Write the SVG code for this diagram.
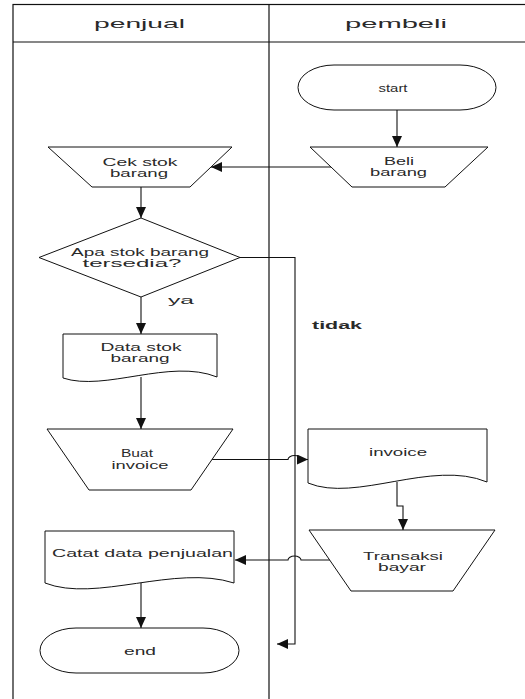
<svg xmlns="http://www.w3.org/2000/svg" width="525" height="699" viewBox="0 0 525 699">
  <style>
    .lane { fill: none; stroke: #111; stroke-width: 1.2; }
    .shape { fill: #fff; stroke: #111; stroke-width: 1; }
    .link { fill: none; stroke: #111; stroke-width: 1.1; }
    text { font-family: "Liberation Sans", Arial, sans-serif; fill: #2a2a2a; text-anchor: middle; }
    .hd { font-size: 13px; }
    .lb { font-size: 10.5px; }
    .bold { font-size: 11px; font-weight: bold; }
  </style>
  <defs>
    <marker id="arrow" markerUnits="userSpaceOnUse" markerWidth="11" markerHeight="10" refX="11" refY="5" orient="auto">
      <path d="M0,0 L11,5 L0,10 z" fill="#111"/>
    </marker>
  </defs>
  <rect width="525" height="699" fill="#fff"/>

  <!-- swimlanes -->
  <g id="lanes">
    <rect class="lane" x="13" y="4.5" width="530" height="710"/>
    <line class="lane" x1="13" y1="42" x2="525" y2="42"/>
    <line class="lane" x1="269" y1="4.5" x2="269" y2="699"/>
    <text class="hd" x="139.5" y="27.5" textLength="91" lengthAdjust="spacingAndGlyphs">penjual</text>
    <text class="hd" x="396" y="27.5" textLength="102" lengthAdjust="spacingAndGlyphs">pembeli</text>
  </g>

  <!-- connectors -->
  <g id="connectors">
    <path class="link" d="M397,110 V147" marker-end="url(#arrow)"/>
    <path class="link" d="M331,167 H211" marker-end="url(#arrow)"/>
    <path class="link" d="M141,187 V218" marker-end="url(#arrow)"/>
    <path class="link" d="M240,257.5 H295 V644 H277" marker-end="url(#arrow)"/>
    <path class="link" d="M141,297 V334" marker-end="url(#arrow)"/>
    <path class="link" d="M141,377 V429" marker-end="url(#arrow)"/>
    <path class="link" d="M212,459.5 H288 A6.5,4 0 0 1 301,459.5 H308" marker-end="url(#arrow)"/>
    <path class="link" d="M397,482 V506 H403 V530" marker-end="url(#arrow)"/>
    <path class="link" d="M330,560 H301 A6.5,4 0 0 0 288,560 H235" marker-end="url(#arrow)"/>
    <path class="link" d="M141,583 V628" marker-end="url(#arrow)"/>
  </g>

  <g id="start">
    <rect class="shape" x="298" y="65" width="198" height="45" rx="36" ry="22.5"/>
    <text class="lb" x="393" y="91.5" textLength="29" lengthAdjust="spacingAndGlyphs">start</text>
  </g>

  <g id="beli-barang">
    <polygon class="shape" points="310,147 488,147 445,187 352,187"/>
    <text class="lb" x="399" y="165" textLength="30" lengthAdjust="spacingAndGlyphs">Beli</text>
    <text class="lb" x="398.5" y="176" textLength="57" lengthAdjust="spacingAndGlyphs">barang</text>
  </g>

  <g id="cek-stok">
    <polygon class="shape" points="48,147 232,147 190,187 92,187"/>
    <text class="lb" x="140" y="166" textLength="75" lengthAdjust="spacingAndGlyphs">Cek stok</text>
    <text class="lb" x="139" y="177" textLength="58" lengthAdjust="spacingAndGlyphs">barang</text>
  </g>

  <g id="stok-tersedia">
    <polygon class="shape" points="141,218 240,257.5 141,297 39,257.5"/>
    <text class="lb" x="140" y="255.5" textLength="138" lengthAdjust="spacingAndGlyphs">Apa stok barang</text>
    <text class="lb" x="132" y="266.5" textLength="99" lengthAdjust="spacingAndGlyphs">tersedia?</text>
  </g>

  <g id="label-ya">
    <text class="lb" x="181" y="304" textLength="26" lengthAdjust="spacingAndGlyphs">ya</text>
  </g>
  <g id="label-tidak">
    <text class="bold" x="337" y="329" textLength="50" lengthAdjust="spacingAndGlyphs">tidak</text>
  </g>

  <g id="data-stok">
    <path class="shape" d="M63,334 H217 V377 C170,358 105,392 63,378 Z"/>
    <text class="lb" x="141" y="351" textLength="81" lengthAdjust="spacingAndGlyphs">Data stok</text>
    <text class="lb" x="140" y="362" textLength="59" lengthAdjust="spacingAndGlyphs">barang</text>
  </g>

  <g id="buat-invoice">
    <polygon class="shape" points="47,429 233,429 191,490 89,490"/>
    <text class="lb" x="137" y="457" textLength="32" lengthAdjust="spacingAndGlyphs">Buat</text>
    <text class="lb" x="140" y="468.5" textLength="57" lengthAdjust="spacingAndGlyphs">invoice</text>
  </g>

  <g id="invoice">
    <path class="shape" d="M308,429 H487 V482 C432,459 356,503 308,483 Z"/>
    <text class="lb" x="398" y="456" textLength="58" lengthAdjust="spacingAndGlyphs">invoice</text>
  </g>

  <g id="transaksi-bayar">
    <polygon class="shape" points="309,530 495,530 453,591 351,591"/>
    <text class="lb" x="403" y="559.5" textLength="80" lengthAdjust="spacingAndGlyphs">Transaksi</text>
    <text class="lb" x="402" y="570.5" textLength="48" lengthAdjust="spacingAndGlyphs">bayar</text>
  </g>

  <g id="catat-penjualan">
    <path class="shape" d="M45,531 H234 V583 C175,564 96,603 45,583 Z"/>
    <text class="lb" x="142.5" y="557" textLength="181" lengthAdjust="spacingAndGlyphs">Catat data penjualan</text>
  </g>

  <g id="end">
    <rect class="shape" x="40" y="628" width="199" height="45" rx="36" ry="22.5"/>
    <text class="lb" x="140" y="654.5" textLength="32" lengthAdjust="spacingAndGlyphs">end</text>
  </g>
</svg>
